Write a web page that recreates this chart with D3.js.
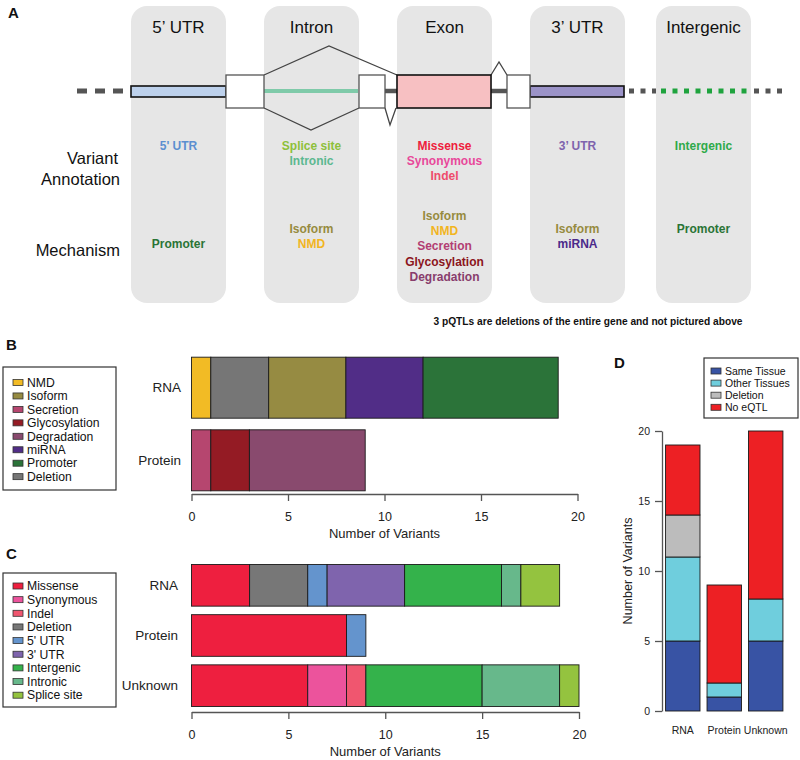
<!DOCTYPE html>
<html><head><meta charset="utf-8">
<script src="https://cdn.jsdelivr.net/npm/d3@7"></script>
<style>body{margin:0;background:#fff}svg{display:block;font-family:"Liberation Sans",Arial,sans-serif}</style>
</head><body><svg id="c" width="800" height="760"></svg>
<script>
// ---------- DATA ----------
// Panel A
const aRegions = ["5\u2019 UTR","Intron","Exon","3\u2019 UTR","Intergenic"];
const aAnnotations = [["5' UTR"],["Splice site","Intronic"],["Missense","Synonymous","Indel"],["3\u2019 UTR"],["Intergenic"]];
const aAnnotationColors = [["#5b8fd0"],["#8dc03a","#5bb890"],["#ee1d3d","#e8489a","#ee4c6c"],["#7e63ad"],["#2faa4a"]];
const aMechanisms = [["Promoter"],["Isoform","NMD"],["Isoform","NMD","Secretion","Glycosylation","Degradation"],["Isoform","miRNA"],["Promoter"]];
const aMechanismColors = [["#2a7436"],["#968b3e","#f2b51e"],["#968b3e","#f2b51e","#b23e73","#8b1520","#883d6c"],["#968b3e","#4b2a8a"],["#2a7436"]];
const aNote = "3 pQTLs are deletions of the entire gene and not pictured above";

// Panel B
const bCategories = ["RNA","Protein"];
const bLegend = ["NMD","Isoform","Secretion","Glycosylation","Degradation","miRNA","Promoter","Deletion"];
const bLegendColors = ["#f2bb25","#968b42","#b6466f","#941b24","#894a6e","#512d87","#2b7339","#767676"];
const bRnaSegments = ["NMD","Deletion","Isoform","miRNA","Promoter"];
const bRnaValues = [1,3,4,4,7];
const bProteinSegments = ["Secretion","Glycosylation","Degradation"];
const bProteinValues = [1,2,6];
const bTicks = [0,5,10,15,20];

// Panel C
const cCategories = ["RNA","Protein","Unknown"];
const cLegend = ["Missense","Synonymous","Indel","Deletion","5' UTR","3' UTR","Intergenic","Intronic","Splice site"];
const cLegendColors = ["#ee1f3f","#ec539c","#f0566f","#777777","#6494cd","#7f64ad","#34b24b","#67b88b","#94c33f"];
const cRnaSegments = ["Missense","Deletion","5' UTR","3' UTR","Intergenic","Intronic","Splice site"];
const cRnaValues = [3,3,1,4,5,1,2];
const cProteinSegments = ["Missense","5' UTR"];
const cProteinValues = [8,1];
const cUnknownSegments = ["Missense","Synonymous","Indel","Intergenic","Intronic","Splice site"];
const cUnknownValues = [6,2,1,6,4,1];
const cTicks = [0,5,10,15,20];

// Panel D
const dCategories = ["RNA","Protein","Unknown"];
const dSeries = ["Same Tissue","Other Tissues","Deletion","No eQTL"];
const dColors = ["#3853a4","#6fcedd","#bcbcbc","#ed2024"];
const dSameTissue = [5,1,5];
const dOtherTissues = [6,1,3];
const dDeletion = [3,0,0];
const dNoEqtl = [5,7,12];
const dTicks = [0,5,10,15,20];

// ---------- DRAW ----------
const svg = d3.select("#c");
const FONT = "'Liberation Sans',Arial,sans-serif";

function panelLabel(t,x,y){
  svg.append("text").attr("x",x).attr("y",y).attr("font-size",15).attr("font-weight","bold").attr("fill","#111").text(t);
}

// ===== Panel A =====
panelLabel("A",8,18);
const boxX = d3.scaleOrdinal().domain(aRegions).range([131,264,397,530,656]);
const boxW = 95, boxTop = 6, boxBottom = 303;
const gA = svg.append("g");
gA.selectAll("rect.region").data(aRegions).join("rect")
  .attr("x",d=>boxX(d)).attr("y",boxTop).attr("width",boxW).attr("height",boxBottom-boxTop)
  .attr("rx",16).attr("fill","#e6e6e6");
gA.selectAll("text.rt").data(aRegions).join("text")
  .attr("x",d=>boxX(d)+boxW/2).attr("y",33).attr("text-anchor","middle")
  .attr("font-size",17).attr("fill","#111").text(d=>d);

// gene model
const gy = 91;
gA.append("line").attr("x1",77).attr("x2",131).attr("y1",gy).attr("y2",gy)
  .attr("stroke","#555").attr("stroke-width",5).attr("stroke-dasharray","10,8");
gA.append("line").attr("x1",627).attr("x2",656).attr("y1",gy).attr("y2",gy)
  .attr("stroke","#555").attr("stroke-width",5).attr("stroke-dasharray","5,6.5").attr("stroke-dashoffset",-2);
gA.append("line").attr("x1",661).attr("x2",751).attr("y1",gy).attr("y2",gy)
  .attr("stroke","#1fa33e").attr("stroke-width",5).attr("stroke-dasharray","5,6.5");
gA.append("line").attr("x1",754).attr("x2",786).attr("y1",gy).attr("y2",gy)
  .attr("stroke","#555").attr("stroke-width",5).attr("stroke-dasharray","5,6.5");
gA.append("line").attr("x1",264).attr("x2",358).attr("y1",gy).attr("y2",gy)
  .attr("stroke","#7fcaa9").attr("stroke-width",4);
gA.append("line").attr("x1",385).attr("x2",397).attr("y1",gy).attr("y2",gy).attr("stroke","#555").attr("stroke-width",4.5);
gA.append("line").attr("x1",491).attr("x2",507).attr("y1",gy).attr("y2",gy).attr("stroke","#555").attr("stroke-width",4.5);
const sp = d3.line();
gA.append("path").attr("d",sp([[264,75],[329,46],[397,75]])).attr("fill","none").attr("stroke","#444").attr("stroke-width",1.3);
gA.append("path").attr("d",sp([[264,108],[311,130],[359,108]])).attr("fill","none").attr("stroke","#444").attr("stroke-width",1.3);
gA.append("path").attr("d",sp([[385,108],[390,125],[396,108]])).attr("fill","#fff").attr("stroke","#444").attr("stroke-width",1.3);
gA.append("path").attr("d",sp([[491,75],[499,62],[507,75]])).attr("fill","#fff").attr("stroke","#444").attr("stroke-width",1.3);
gA.append("rect").attr("x",131).attr("y",86).attr("width",95).attr("height",11).attr("fill","#bdd1ec").attr("stroke","#111").attr("stroke-width",1.6);
gA.append("rect").attr("x",530).attr("y",86).attr("width",94).attr("height",11).attr("fill","#9b93c8").attr("stroke","#111").attr("stroke-width",1.6);
[[226,38],[359,26],[507,23]].forEach(([x,w])=>{
  gA.append("rect").attr("x",x).attr("y",75).attr("width",w).attr("height",33).attr("fill","#fff").attr("stroke","#555").attr("stroke-width",1.3);
});
gA.append("rect").attr("x",397).attr("y",75).attr("width",94).attr("height",33).attr("fill","#f7c0c2").attr("stroke","#111").attr("stroke-width",1.6);

gA.append("text").attr("x",118).attr("y",164).attr("text-anchor","end").attr("font-size",16.5).attr("fill","#111").text("Variant");
gA.append("text").attr("x",120).attr("y",185).attr("text-anchor","end").attr("font-size",16.5).attr("fill","#111").text("Annotation");
gA.append("text").attr("x",120).attr("y",256).attr("text-anchor","end").attr("font-size",16.5).attr("fill","#111").text("Mechanism");

aRegions.forEach((r,i)=>{
  const cx = boxX(r)+boxW/2;
  aAnnotations[i].forEach((t,j)=>{
    gA.append("text").attr("x",cx).attr("y",150+j*15.2).attr("text-anchor","middle")
      .attr("font-size",12).attr("font-weight","bold").attr("fill",aAnnotationColors[i][j]).text(t);
  });
  const m = aMechanisms[i];
  const start = m.length===1 ? (i===4?233:248) : (m.length===2?233:220);
  m.forEach((t,j)=>{
    gA.append("text").attr("x",cx).attr("y",start+j*15.2).attr("text-anchor","middle")
      .attr("font-size",12).attr("font-weight","bold").attr("fill",aMechanismColors[i][j]).text(t);
  });
});
gA.append("text").attr("x",588).attr("y",325).attr("text-anchor","middle").attr("font-size",10.2)
  .attr("font-weight","bold").attr("fill","#111").text(aNote);

// ===== helpers =====
function legendBox(x,y,w,h,items,colors,fs,step,firstY,sw,sh,tx){
  const g = svg.append("g");
  g.append("rect").attr("x",x).attr("y",y).attr("width",w).attr("height",h).attr("fill","#fff").attr("stroke","#333").attr("stroke-width",1.2);
  items.forEach((t,i)=>{
    const cy = firstY + i*step;
    g.append("rect").attr("x",x+sw[0]).attr("y",cy-sh/2).attr("width",sw[1]).attr("height",sh)
      .attr("fill",colors[i]).attr("stroke","#333").attr("stroke-width",0.8);
    g.append("text").attr("x",x+tx).attr("y",cy).attr("dy","0.35em").attr("font-size",fs).attr("fill","#111").text(t);
  });
}

function hStack(g,x,y0,h,segs,vals,colorOf){
  let acc = 0;
  segs.forEach((s,i)=>{
    g.append("rect").attr("x",x(acc)).attr("y",y0).attr("width",x(acc+vals[i])-x(acc)).attr("height",h)
      .attr("fill",colorOf(s)).attr("stroke","#1a1a1a").attr("stroke-width",0.9);
    acc += vals[i];
  });
}

function bottomAxis(g,x,ticks,y,labelY,title){
  const ax = d3.axisBottom(x).tickValues(ticks).tickSize(7).tickSizeOuter(0).tickPadding(11);
  const a = g.append("g").attr("transform",`translate(0,${y})`).call(ax);
  a.select(".domain").attr("stroke","#555").attr("stroke-width",1.3);
  a.selectAll(".tick line").attr("stroke","#555").attr("stroke-width",1.3);
  a.selectAll(".tick text").attr("font-size",12.5).attr("font-family",FONT).attr("fill","#222");
  g.append("text").attr("x",(x.range()[0]+x.range()[1])/2).attr("y",labelY).attr("text-anchor","middle")
    .attr("font-size",13).attr("fill","#222").text(title);
}

// ===== Panel B =====
panelLabel("B",6,350);
legendBox(3,367,113,123,bLegend,bLegendColors,12.2,13.45,382.5,[10,10],6,24);
const bColor = d3.scaleOrdinal().domain(bLegend).range(bLegendColors);
const xB = d3.scaleLinear().domain([0,20]).range([191.5,577.5]);
const yB = d3.scaleBand().domain(bCategories).range([355,493]).paddingInner(0.16).paddingOuter(0.03);
const gB = svg.append("g");
hStack(gB,xB,yB("RNA"),yB.bandwidth(),bRnaSegments,bRnaValues,bColor);
hStack(gB,xB,yB("Protein"),yB.bandwidth(),bProteinSegments,bProteinValues,bColor);
bCategories.forEach(c=>{
  gB.append("text").attr("x",181).attr("y",yB(c)+yB.bandwidth()/2).attr("dy","0.35em").attr("text-anchor","end")
    .attr("font-size",13.5).attr("fill","#222").text(c);
});
bottomAxis(gB,xB,bTicks,494,538,"Number of Variants");

// ===== Panel C =====
panelLabel("C",6,559);
legendBox(3,573,113,134,cLegend,cLegendColors,12.2,13.65,586,[10,10],6,24);
const cColor = d3.scaleOrdinal().domain(cLegend).range(cLegendColors);
const xC = d3.scaleLinear().domain([0,20]).range([191.5,579]);
const yC = d3.scaleBand().domain(cCategories).range([563,708]).paddingInner(0.17).paddingOuter(0.03);
const gC = svg.append("g");
hStack(gC,xC,yC("RNA"),yC.bandwidth(),cRnaSegments,cRnaValues,cColor);
hStack(gC,xC,yC("Protein"),yC.bandwidth(),cProteinSegments,cProteinValues,cColor);
hStack(gC,xC,yC("Unknown"),yC.bandwidth(),cUnknownSegments,cUnknownValues,cColor);
cCategories.forEach(c=>{
  gC.append("text").attr("x",178).attr("y",yC(c)+yC.bandwidth()/2).attr("dy","0.35em").attr("text-anchor","end")
    .attr("font-size",13.5).attr("fill","#222").text(c);
});
bottomAxis(gC,xC,cTicks,712,756,"Number of Variants");

// ===== Panel D =====
panelLabel("D",614,368);
legendBox(704,358,94,60,dSeries,dColors,10.5,12.1,371,[7,10],6,21);
const xD = d3.scaleBand().domain(dCategories).range([663.5,785]).paddingInner(0.17).paddingOuter(0.05);
const yD = d3.scaleLinear().domain([0,20]).range([711,431]);
const dRows = dCategories.map((c,i)=>({cat:c,"Same Tissue":dSameTissue[i],"Other Tissues":dOtherTissues[i],"Deletion":dDeletion[i],"No eQTL":dNoEqtl[i]}));
const stacked = d3.stack().keys(dSeries)(dRows);
const gD = svg.append("g");
stacked.forEach((layer,li)=>{
  gD.selectAll(null).data(layer.filter(d=>d[1]>d[0])).join("rect")
    .attr("x",d=>xD(d.data.cat)).attr("width",xD.bandwidth())
    .attr("y",d=>yD(d[1])).attr("height",d=>yD(d[0])-yD(d[1]))
    .attr("fill",dColors[li]).attr("stroke","#1a1a1a").attr("stroke-width",0.9);
});
const axD = d3.axisLeft(yD).tickValues(dTicks).tickSize(7).tickSizeOuter(0).tickPadding(5);
const aD = gD.append("g").attr("transform","translate(662,0)").call(axD);
aD.select(".domain").attr("stroke","#555").attr("stroke-width",1.3);
aD.selectAll(".tick line").attr("stroke","#555").attr("stroke-width",1.3);
aD.selectAll(".tick text").attr("font-size",10.5).attr("font-family",FONT).attr("fill","#222");
dCategories.forEach(c=>{
  gD.append("text").attr("x",xD(c)+xD.bandwidth()/2).attr("y",734).attr("text-anchor","middle")
    .attr("font-size",10.5).attr("fill","#222").text(c);
});
gD.append("text").attr("transform","translate(632,571) rotate(-90)").attr("text-anchor","middle")
  .attr("font-size",12.5).attr("fill","#222").text("Number of Variants");
</script></body></html>
